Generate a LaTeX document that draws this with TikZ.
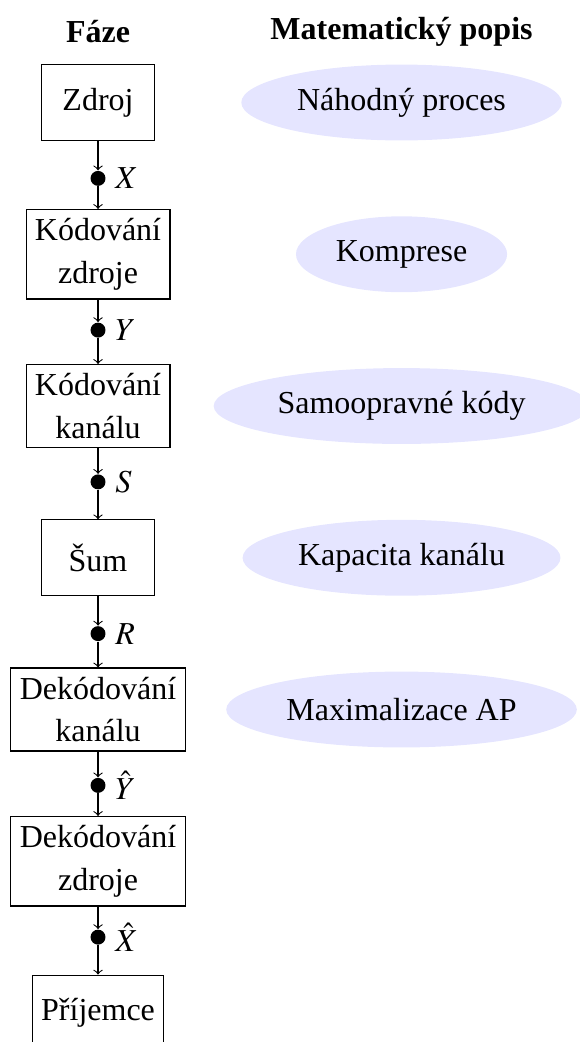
\documentclass[tikz,border=0pt]{standalone}
\usepackage{mathptmx}
\usepackage{fontspec}
\setmainfont{Liberation Serif}
\usetikzlibrary{shapes.geometric}

\begin{document}
\begin{tikzpicture}[font=\fontsize{12}{14.4}\selectfont,
    faze/.style={draw, align=center, font=\fontsize{12}{16}\selectfont,
        minimum width=1.5cm, minimum height=1cm},
    popis/.style={ellipse, fill=blue!10, minimum height=1cm},
    signal/.style={circle, fill=black, inner sep=0pt, minimum size=5.6pt,
        label distance=1pt}]
    \useasboundingbox (-1.292, 1.351) rectangle (6.352, -12.382);

    % headers
    \node[font=\fontsize{12}{14.4}\selectfont\bfseries] (hFaze) at (0, 0.93) {Fáze};
    \node[font=\fontsize{12}{14.4}\selectfont\bfseries] (hPopis) at (4, 0.93) {Matematický popis};

    % stages
    \node[faze] (zdroj) at (0, 0) {Zdroj};
    \node[faze] (kodZ) at (0, -2) {Kódování\\zdroje};
    \node[faze] (kodK) at (0, -4) {Kódování\\kanálu};
    \node[faze] (sum) at (0, -6) {Šum};
    \node[faze] (dekK) at (0, -8) {Dekódování\\kanálu};
    \node[faze] (dekZ) at (0, -10) {Dekódování\\zdroje};
    \node[faze] (prijemce) at (0, -12) {Příjemce};

    % signals between stages
    \node[signal, label=right:$X$] (sX) at (0, -1) {};
    \node[signal, label=right:$Y$] (sY) at (0, -3) {};
    \node[signal, label=right:$S$] (sS) at (0, -5) {};
    \node[signal, label=right:$R$] (sR) at (0, -7) {};
    \node[signal, label=right:$\hat{Y}$] (sYh) at (0, -9) {};
    \node[signal, label=right:$\hat{X}$] (sXh) at (0, -11) {};

    \draw[->] (zdroj) -- (sX);
    \draw[->] (sX) -- (kodZ);
    \draw[->] (kodZ) -- (sY);
    \draw[->] (sY) -- (kodK);
    \draw[->] (kodK) -- (sS);
    \draw[->] (sS) -- (sum);
    \draw[->] (sum) -- (sR);
    \draw[->] (sR) -- (dekK);
    \draw[->] (dekK) -- (sYh);
    \draw[->] (sYh) -- (dekZ);
    \draw[->] (dekZ) -- (sXh);
    \draw[->] (sXh) -- (prijemce);

    % mathematical description
    \node[popis] (nahodny) at (4, 0) {Náhodný proces};
    \node[popis] (komprese) at (4, -2) {Komprese};
    \node[popis] (samoopr) at (4, -4) {Samoopravné kódy};
    \node[popis] (kapacita) at (4, -6) {Kapacita kanálu};
    \node[popis] (maxAP) at (4, -8) {Maximalizace AP};
\end{tikzpicture}
\end{document}
